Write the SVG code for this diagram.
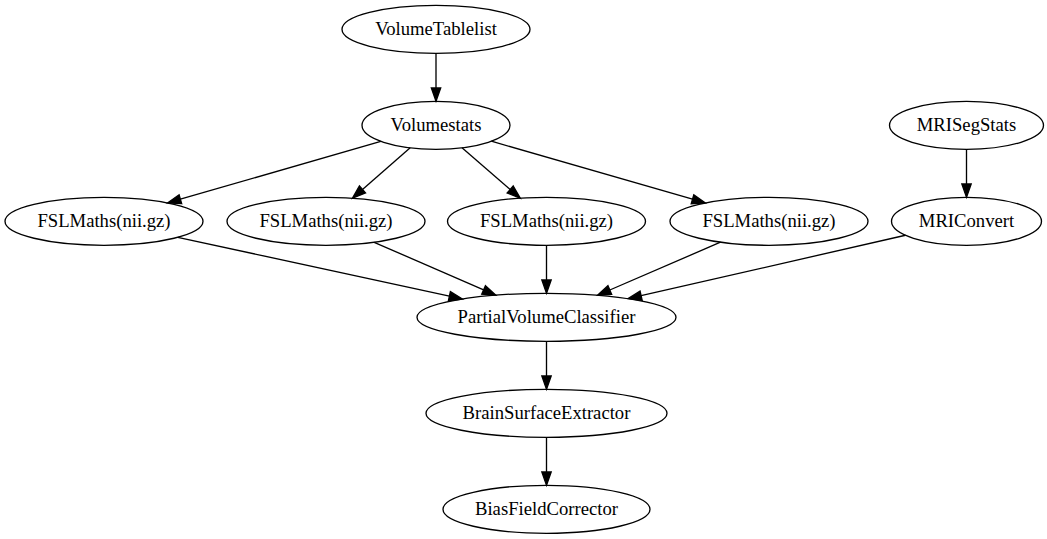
<svg xmlns="http://www.w3.org/2000/svg" width="1047" height="539" viewBox="0 0 1047 539">
<style>
.n ellipse{fill:none;stroke:#000;stroke-width:1.33}
.n text{font-family:"Liberation Serif","Times New Roman",serif;font-size:18.67px;text-anchor:middle;fill:#000}
#edges line{stroke:#000;stroke-width:1.33;marker-end:url(#ah)}
</style>
<defs>
<marker id="ah" markerUnits="userSpaceOnUse" markerWidth="16" markerHeight="12" viewBox="0 0 16 12" refX="0" refY="6" orient="auto" overflow="visible">
<path d="M0,1.33 L13.33,6 L0,10.67 z" fill="#000" stroke="#000" stroke-width="1.33"/>
</marker>
</defs>
<rect width="1047" height="539" fill="#fff"/>
<g id="edges">
<line x1="436" y1="53.3" x2="436" y2="88"/>
<line x1="380.8" y1="141.3" x2="180.4" y2="199.2"/>
<line x1="410.2" y1="147.8" x2="362.5" y2="189.4"/>
<line x1="462" y1="147.8" x2="510.2" y2="189.5"/>
<line x1="491.3" y1="141.2" x2="692.5" y2="199.2"/>
<line x1="966.5" y1="149.3" x2="966.5" y2="184"/>
<line x1="177.8" y1="237.3" x2="449.4" y2="296.2"/>
<line x1="374.2" y1="242.3" x2="483.6" y2="289.9"/>
<line x1="546.5" y1="245.3" x2="546.5" y2="280"/>
<line x1="720.5" y1="242.2" x2="609.8" y2="290"/>
<line x1="905.5" y1="235.25" x2="641.1" y2="295.7"/>
<line x1="546.5" y1="341.3" x2="546.5" y2="376"/>
<line x1="546.5" y1="437.3" x2="546.5" y2="472"/>
</g>
<g id="VolumeTablelist" class="n"><ellipse cx="436" cy="29.3" rx="94" ry="24"/><text x="436" y="34.9">VolumeTablelist</text></g>
<g id="Volumestats" class="n"><ellipse cx="436" cy="125.3" rx="74" ry="24"/><text x="436" y="130.9">Volumestats</text></g>
<g id="MRISegStats" class="n"><ellipse cx="966.5" cy="125.3" rx="77" ry="24"/><text x="966.5" y="130.9">MRISegStats</text></g>
<g id="FSLMaths1" class="n"><ellipse cx="104" cy="221.3" rx="99" ry="24"/><text x="104" y="226.9">FSLMaths(nii.gz)</text></g>
<g id="FSLMaths2" class="n"><ellipse cx="326" cy="221.3" rx="99" ry="24"/><text x="326" y="226.9">FSLMaths(nii.gz)</text></g>
<g id="FSLMaths3" class="n"><ellipse cx="546.5" cy="221.3" rx="99" ry="24"/><text x="546.5" y="226.9">FSLMaths(nii.gz)</text></g>
<g id="FSLMaths4" class="n"><ellipse cx="769" cy="221.3" rx="99" ry="24"/><text x="769" y="226.9">FSLMaths(nii.gz)</text></g>
<g id="MRIConvert" class="n"><ellipse cx="966.5" cy="221.3" rx="75" ry="24"/><text x="966.5" y="226.9">MRIConvert</text></g>
<g id="PartialVolumeClassifier" class="n"><ellipse cx="546.5" cy="317.3" rx="129.5" ry="24"/><text x="546.5" y="322.9">PartialVolumeClassifier</text></g>
<g id="BrainSurfaceExtractor" class="n"><ellipse cx="546.5" cy="413.3" rx="120.5" ry="24"/><text x="546.5" y="418.9">BrainSurfaceExtractor</text></g>
<g id="BiasFieldCorrector" class="n"><ellipse cx="546.5" cy="509.3" rx="103.5" ry="24"/><text x="546.5" y="514.9">BiasFieldCorrector</text></g>
</svg>
